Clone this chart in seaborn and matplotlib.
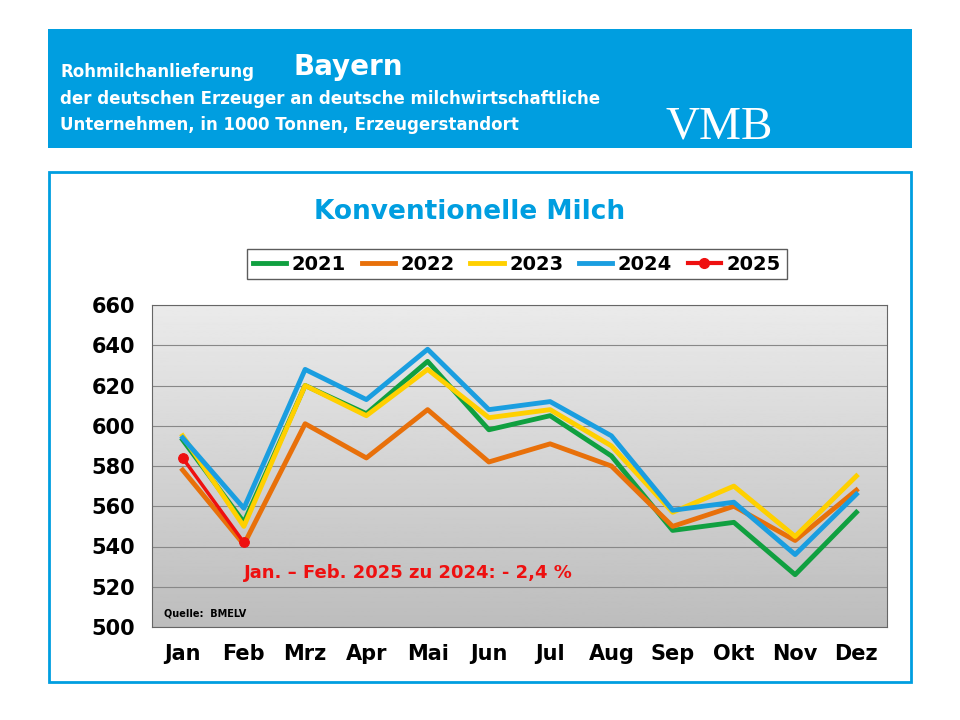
import numpy as np
import pandas as pd
import matplotlib.pyplot as plt
import seaborn as sns
from matplotlib.patches import Rectangle

months = ['Jan', 'Feb', 'Mrz', 'Apr', 'Mai', 'Jun', 'Jul', 'Aug', 'Sep', 'Okt', 'Nov', 'Dez']
y2021 = [593, 552, 620, 606, 632, 598, 605, 585, 548, 552, 526, 557]
y2022 = [578, 541, 601, 584, 608, 582, 591, 580, 550, 560, 543, 568]
y2023 = [595, 550, 620, 605, 628, 604, 608, 590, 557, 570, 545, 575]
y2024 = [594, 559, 628, 613, 638, 608, 612, 595, 558, 562, 536, 566]
y2025 = [584, 542]

colors = {'2021': '#10a040', '2022': '#e8700a', '2023': '#ffd000', '2024': '#1a9ee0', '2025': '#ee1010'}

rows = []
for year, vals in [('2021', y2021), ('2022', y2022), ('2023', y2023), ('2024', y2024), ('2025', y2025)]:
    for i, v in enumerate(vals):
        rows.append({'Monat': i, 'Wert': v, 'Jahr': year})
df = pd.DataFrame(rows)

plt.rcParams['font.family'] = 'DejaVu Sans'
fig = plt.figure(figsize=(9.6, 7.2), dpi=100)
W, H = 960, 720

# Kopfbanner
fig.patches.append(Rectangle((48 / W, 1 - 148 / H), 864 / W, 119 / H, transform=fig.transFigure,
                             facecolor='#009ee0', edgecolor='none'))
fig.text(60 / W, 1 - 72 / H, 'Rohmilchanlieferung', color='white', fontsize=12, fontweight='bold', va='center')
fig.text(293 / W, 1 - 67 / H, 'Bayern', color='white', fontsize=20, fontweight='bold', va='center')
fig.text(60 / W, 1 - 99 / H, 'der deutschen Erzeuger an deutsche milchwirtschaftliche', color='white',
         fontsize=12, fontweight='bold', va='center')
fig.text(60 / W, 1 - 125 / H, 'Unternehmen, in 1000 Tonnen, Erzeugerstandort', color='white',
         fontsize=12, fontweight='bold', va='center')
fig.text(665 / W, 1 - 127 / H, 'VMB', color='white', fontsize=34, family='Liberation Serif', va='center')

# Rahmen
fig.patches.append(Rectangle((49 / W, 1 - 682 / H), 862 / W, 510 / H, transform=fig.transFigure,
                             facecolor='white', edgecolor='#009ee0', linewidth=2, zorder=0))
fig.text(0.5 - 10 / W, 1 - 212 / H, 'Konventionelle Milch', color='#009ee0', fontsize=19,
         fontweight='bold', ha='center', va='center')

ax = fig.add_axes([152 / W, 1 - 627 / H, 735 / W, 322 / H])
ax.set_zorder(3)
grad = np.linspace(0.92, 0.74, 256).reshape(-1, 1)
ax.imshow(grad, cmap='gray', vmin=0, vmax=1, aspect='auto', extent=(-0.5, 11.5, 500, 660), zorder=0)

sns.lineplot(data=df[df['Jahr'] != '2025'], x='Monat', y='Wert', hue='Jahr', palette=colors,
             linewidth=3.5, ax=ax, legend=False, zorder=3, solid_joinstyle='round')
sns.lineplot(data=df[df['Jahr'] == '2025'], x='Monat', y='Wert', color=colors['2025'], linewidth=2.5,
             marker='o', markersize=7, markeredgecolor=colors['2025'], ax=ax, legend=False, zorder=4)

ax.set_xlim(-0.5, 11.5)
ax.set_ylim(500, 660)
ax.set_yticks(range(500, 661, 20))
ax.set_xticks(range(12))
ax.set_xticklabels(months)
ax.grid(axis='y', color='#888888', linewidth=0.8, zorder=1)
ax.grid(axis='x', visible=False)
for lab in ax.get_xticklabels() + ax.get_yticklabels():
    lab.set_fontsize(15)
    lab.set_fontweight('bold')
ax.tick_params(length=0, pad=12)
ax.set_xlabel('')
ax.set_ylabel('')
for s in ax.spines.values():
    s.set_color('#666666')

ax.text(1.0, 527, 'Jan. – Feb. 2025 zu 2024: - 2,4 %', color='#ee1010', fontsize=13, fontweight='bold',
        va='center', zorder=5)
ax.text(-0.3, 505, 'Quelle:  BMELV', fontsize=7, fontweight='bold', zorder=5)

handles = [plt.Line2D([], [], color=colors[y], linewidth=3.5) for y in ['2021', '2022', '2023', '2024']]
handles.append(plt.Line2D([], [], color=colors['2025'], linewidth=3, marker='o', markersize=7))
fig.legend(handles, ['2021', '2022', '2023', '2024', '2025'], loc='center', ncol=5,
           bbox_to_anchor=(517 / W, 1 - 264 / H), frameon=True, fancybox=False, edgecolor='#333333',
           prop={'size': 14, 'weight': 'bold'}, handlelength=1.7, columnspacing=0.8, handletextpad=0.3,
           borderpad=0.3)

fig.savefig('out.png', dpi=100)
